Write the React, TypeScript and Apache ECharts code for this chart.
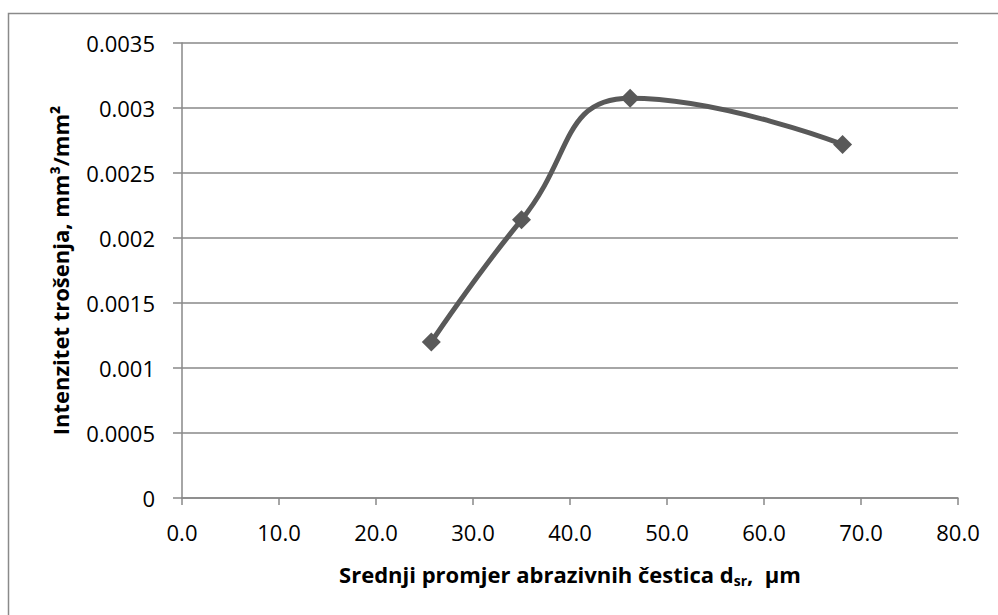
import React, { useEffect, useRef } from "react";
import * as echarts from "echarts";

const particleSize = [25.7, 35.0, 46.2, 68.1];
const wearIntensity = [0.0012, 0.00214, 0.003075, 0.00272];
const xTitle = "Srednji promjer abrazivnih čestica d";
const xTitleSub = "sr";
const xTitleTail = ",  µm";
const yTitle = "Intenzitet trošenja, mm³/mm²";

export default function App() {
  const ref = useRef<HTMLDivElement>(null);
  useEffect(() => {
    if (!ref.current) return;
    const chart = echarts.init(ref.current, null, { renderer: "svg" });
    const font = "'Open Sans', sans-serif";
    chart.setOption({
      animation: false,
      backgroundColor: "#ffffff",
      graphic: [
        {
          type: "rect",
          shape: { x: 8.5, y: 13.5, width: 1000, height: 700 },
          style: { fill: "none", stroke: "#8a8a8a", lineWidth: 1.5 },
          silent: true,
        },
      ],
      grid: { left: 182, right: 40, top: 43, bottom: 117 },
      xAxis: {
        type: "value",
        min: 0,
        max: 80,
        interval: 10,
        name: `{t|${xTitle}}{s|${xTitleSub}}{t|${xTitleTail}}`,
        nameLocation: "middle",
        nameGap: 63,
        nameTextStyle: {
          rich: {
            t: { fontFamily: font, fontWeight: "bold", fontSize: 22, color: "#000" },
            s: { fontFamily: font, fontWeight: "bold", fontSize: 14, color: "#000", verticalAlign: "bottom", padding: [12, 0, 0, 0] },
          },
        },
        axisLine: { show: true, lineStyle: { color: "#888888", width: 1.5 } },
        axisTick: { show: true, length: 7, lineStyle: { color: "#888888", width: 1.5 } },
        axisLabel: {
          margin: 23,
          fontFamily: font,
          fontSize: 22,
          color: "#000",
          formatter: (v: number) => v.toFixed(1),
        },
        splitLine: { show: false },
      },
      yAxis: {
        type: "value",
        min: 0,
        max: 0.0035,
        interval: 0.0005,
        name: yTitle,
        nameLocation: "middle",
        nameRotate: 90,
        nameGap: 111,
        nameTextStyle: { fontFamily: font, fontWeight: "bold", fontSize: 22, color: "#000" },
        axisLine: { show: true, lineStyle: { color: "#888888", width: 1.5 } },
        axisTick: { show: true, length: 9, lineStyle: { color: "#888888", width: 1.5 } },
        axisLabel: {
          margin: 27,
          fontFamily: font,
          fontSize: 22,
          color: "#000",
          formatter: (v: number) => String(+v.toFixed(4)),
        },
        splitLine: { show: true, lineStyle: { color: "#888888", width: 1.5 } },
      },
      series: [
        {
          type: "line",
          data: particleSize.map((x, i) => [x, wearIntensity[i]]),
          smooth: 0.5,
          symbol: "diamond",
          symbolSize: 19,
          itemStyle: { color: "#595959" },
          lineStyle: { color: "#595959", width: 5 },
        },
      ],
    });
    return () => chart.dispose();
  }, []);
  return (
    <div
      ref={ref}
      style={{ position: "fixed", left: 0, top: 0, width: 998, height: 615 }}
    />
  );
}
